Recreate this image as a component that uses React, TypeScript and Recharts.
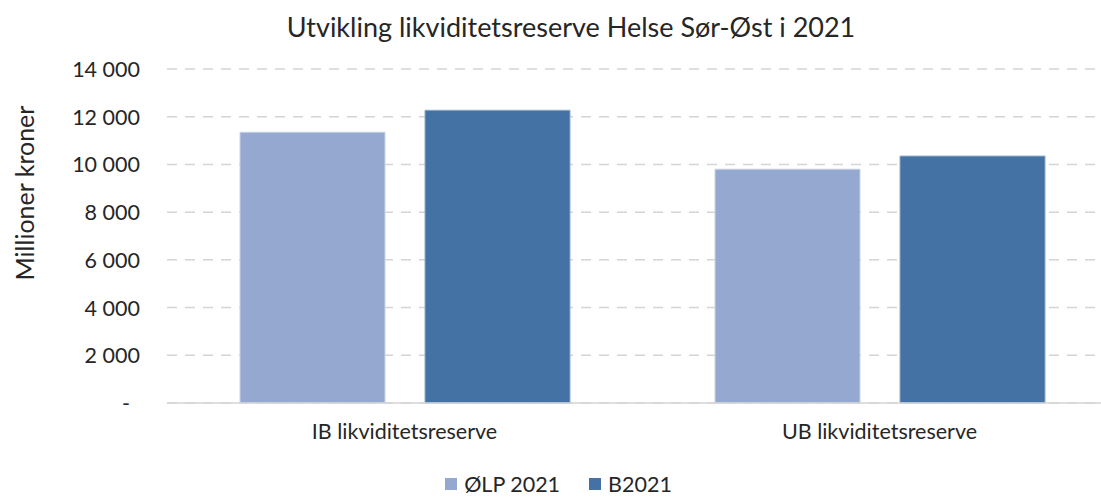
import { Bar, BarChart, CartesianGrid, Legend, XAxis, YAxis } from "recharts";

const categories = ["IB likviditetsreserve", "UB likviditetsreserve"];
const olp2021 = [11350, 9800];
const b2021 = [12270, 10350];
const yTicks = [0, 2000, 4000, 6000, 8000, 10000, 12000, 14000];

const data = categories.map((name, i) => ({
  name,
  olp: olp2021[i],
  b: b2021[i],
}));

const font = "Lato, 'Open Sans', sans-serif";
const textColor = "#262626";

function formatTick(v: number) {
  if (v === 0) return "-";
  return String(v).replace(/\B(?=(\d{3})+(?!\d))/g, " ");
}

function YTick(props: any) {
  const { x, y, payload } = props;
  const isZero = payload.value === 0;
  return (
    <text
      x={isZero ? x - 10 : x}
      y={y}
      dy={8}
      textAnchor="end"
      fontSize={21.5}
      fontFamily={font}
      fill={textColor}
    >
      {formatTick(payload.value)}
    </text>
  );
}

function LegendContent(props: any) {
  const items = [...(props.payload || [])].sort(
    (a: any, b: any) => (a.dataKey === "olp" ? 0 : 1) - (b.dataKey === "olp" ? 0 : 1)
  );
  return (
    <div style={{ display: "flex", justifyContent: "center", gap: 29, height: 24 }}>
      {items.map((it: any) => (
        <div key={it.value} style={{ display: "flex", alignItems: "center" }}>
          <span
            style={{
              display: "inline-block",
              width: 12,
              height: 12,
              background: it.color,
              marginRight: 7,
            }}
          />
          <span
            style={{ fontSize: 21.5, lineHeight: "24px", color: textColor, fontFamily: font }}
          >
            {it.value}
          </span>
        </div>
      ))}
    </div>
  );
}

export default function App() {
  return (
    <div
      style={{
        position: "absolute",
        left: 0,
        top: 0,
        width: 1101,
        height: 497,
        overflow: "hidden",
        background: "#fff",
        fontFamily: font,
      }}
    >
      <div
        style={{
          position: "absolute",
          left: 0,
          width: 1142,
          top: 10,
          textAlign: "center",
          fontSize: 27,
          lineHeight: "34px",
          color: textColor,
        }}
      >
        Utvikling likviditetsreserve Helse Sør-Øst i 2021
      </div>
      <div
        style={{
          position: "absolute",
          left: 24,
          top: 193,
          transform: "translate(-50%, -50%) rotate(-90deg)",
          fontSize: 25,
          color: textColor,
          whiteSpace: "nowrap",
        }}
      >
        Millioner kroner
      </div>
      <BarChart
        width={1125}
        height={497}
        data={data}
        margin={{ top: 69, right: 8, bottom: 40, left: 0 }}
        barGap={40}
        barSize={145}
      >
        <CartesianGrid
          vertical={false}
          stroke="#d4d4d4"
          strokeWidth={1.5}
          strokeDasharray="10 8"
        />
        <XAxis
          dataKey="name"
          tickLine={false}
          axisLine={{ stroke: "#d4d4d4", strokeWidth: 1.5 }}
          tick={{ fontSize: 21.5, fill: textColor, fontFamily: font }}
          tickMargin={15}
          height={30}
        />
        <YAxis
          domain={[0, 14000]}
          ticks={yTicks}
          width={167}
          axisLine={false}
          tickLine={false}
          tickSize={0}
          tickMargin={27}
          tick={<YTick />}
        />
        <Legend
          verticalAlign="bottom"
          content={<LegendContent />}
          wrapperStyle={{ bottom: 1 }}
        />
        <Bar
          dataKey="olp"
          name="ØLP 2021"
          fill="#95a9d0"
          stroke="#c9d3e8"
          strokeWidth={1}
          isAnimationActive={false}
        />
        <Bar
          dataKey="b"
          name="B2021"
          fill="#4472a5"
          stroke="#8fa9cc"
          strokeWidth={1}
          isAnimationActive={false}
        />
      </BarChart>
    </div>
  );
}
